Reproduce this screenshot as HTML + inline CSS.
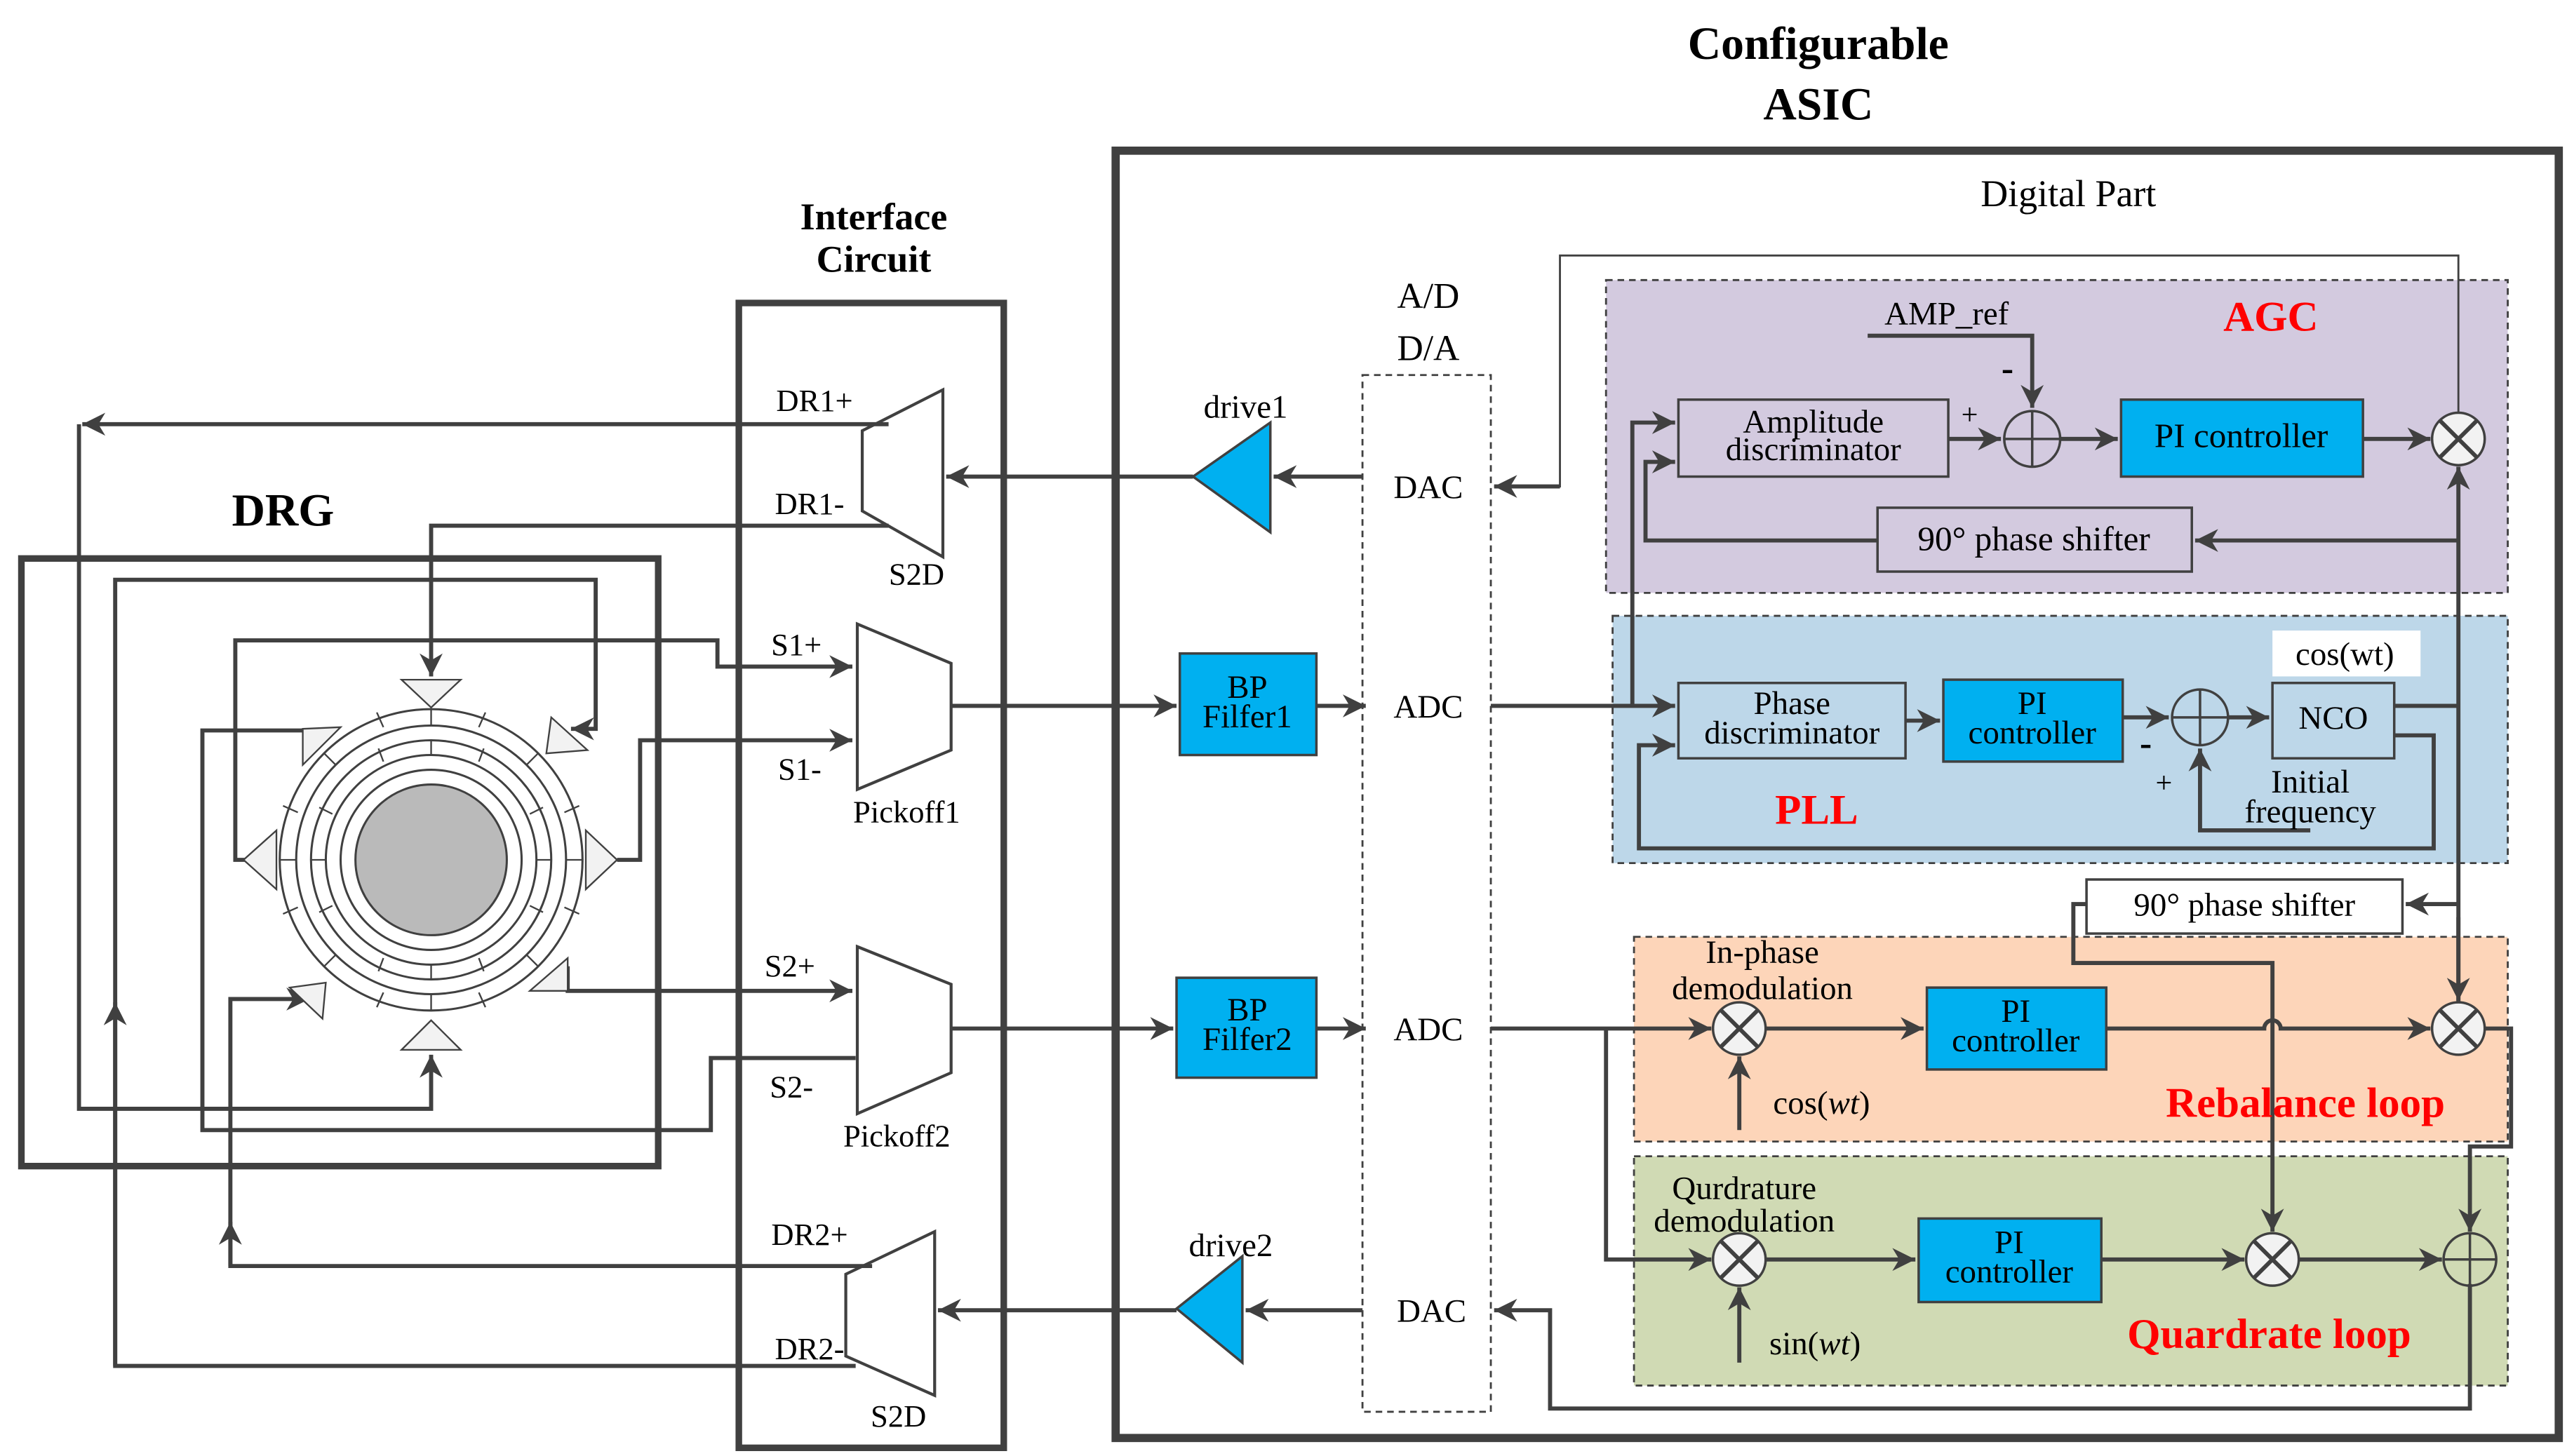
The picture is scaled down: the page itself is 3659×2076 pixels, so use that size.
<!DOCTYPE html>
<html><head><meta charset="utf-8"><style>
html,body{margin:0;padding:0;background:#fff;}
svg{display:block;}
text{font-family:"Liberation Serif",serif;}
.r{fill:#ff0000;}
</style></head><body>
<svg width="3659" height="2076" viewBox="0 0 1560 889" preserveAspectRatio="none" xmlns="http://www.w3.org/2000/svg">
<defs>
<marker id="b" viewBox="0 0 10 10" refX="10" refY="5" markerWidth="18" markerHeight="14" markerUnits="userSpaceOnUse" orient="auto"><path d="M0,0 L10,5 L0,10 L3,5 z" fill="#404040"/></marker>
</defs>
<g fill="none" stroke="#404040">
<rect x="976" y="171" width="548" height="191" fill="#d3cadf" stroke-dasharray="4,3" stroke-width="1.2"/>
<rect x="980" y="376" width="544" height="151" fill="#bdd7e9" stroke-dasharray="4,3" stroke-width="1.2"/>
<rect x="993" y="572" width="531" height="125" fill="#fdd5b9" stroke-dasharray="4,3" stroke-width="1.2"/>
<rect x="993" y="706" width="531" height="140" fill="#d0dab4" stroke-dasharray="4,3" stroke-width="1.2"/>
<rect x="678" y="92" width="877" height="786" stroke-width="5"/>
<rect x="449" y="185" width="161" height="699" stroke-width="4"/>
<rect x="13" y="341" width="387" height="371" stroke-width="4"/>
<rect x="828" y="229" width="78" height="633" stroke-dasharray="4,3" stroke-width="1.2"/>
</g>
<g stroke="#404040" stroke-width="1.5">
<rect x="1020" y="244" width="164" height="47" fill="none"/>
<rect x="1289" y="244" width="147" height="47" fill="#00b0f0"/>
<rect x="1141" y="310" width="191" height="39" fill="none"/>
<rect x="1020" y="417" width="138" height="46" fill="none"/>
<rect x="1181" y="415" width="109" height="50" fill="#00b0f0"/>
<rect x="1381" y="417" width="74" height="46" fill="none"/>
<rect x="1268" y="537" width="192" height="33" fill="#fff"/>
<rect x="1171" y="603" width="109" height="50" fill="#00b0f0"/>
<rect x="1166" y="744" width="111" height="51" fill="#00b0f0"/>
<rect x="717" y="399" width="83" height="62" fill="#00b0f0"/>
<rect x="715" y="597" width="85" height="61" fill="#00b0f0"/>
<polygon points="725,291 772,258 772,325" fill="#00b0f0"/>
<polygon points="715,799 755,767 755,832" fill="#00b0f0"/>
</g>
<rect x="1381" y="385" width="90" height="28" fill="#fff"/>
<g fill="#fff" stroke="#404040" stroke-width="1.8">
<polygon points="573,238 573,340 524,312 524,263"/>
<polygon points="521,381 578,405 578,458 521,482"/>
<polygon points="521,578 578,601 578,655 521,680"/>
<polygon points="568,752 568,852 514,828 514,778"/>
</g>
<g fill="none" stroke="#404040" stroke-width="2.5">
<path d="M725,291 H575" marker-end="url(#b)"/>
<path d="M828,291 H774" marker-end="url(#b)"/>
<path d="M578,431 H715" marker-end="url(#b)"/>
<path d="M800,431 H830" marker-end="url(#b)"/>
<path d="M578,628 H713" marker-end="url(#b)"/>
<path d="M800,628 H830" marker-end="url(#b)"/>
<path d="M828,800 H757" marker-end="url(#b)"/>
<path d="M715,800 H570" marker-end="url(#b)"/>
<path d="M906,431 H1018" marker-end="url(#b)"/>
<path d="M992,431 V258 H1018" marker-end="url(#b)"/>
<path d="M1141,330 H1000 V282 H1018" marker-end="url(#b)"/>
<path d="M1184,268 H1216" marker-end="url(#b)"/>
<path d="M1135,205 H1235 V249" marker-end="url(#b)"/>
<path d="M1252,268 H1287" marker-end="url(#b)"/>
<path d="M1436,268 H1477" marker-end="url(#b)"/>
<path d="M1455,431 H1494"/>
<path d="M1494,613 V285" marker-end="url(#b)"/>
<path d="M1494,330 H1334" marker-end="url(#b)"/>
<path d="M1494,552 H1462" marker-end="url(#b)"/>
<path d="M1494,560 V611" marker-end="url(#b)"/>
<path d="M1158,440 H1179" marker-end="url(#b)"/>
<path d="M1290,438 H1318" marker-end="url(#b)"/>
<path d="M1354,438 H1379" marker-end="url(#b)"/>
<path d="M1404,507 H1337 V457" marker-end="url(#b)"/>
<path d="M1455,449 H1479 V518 H996 V455 H1018" marker-end="url(#b)"/>
<path d="M906,628 H1040" marker-end="url(#b)"/>
<path d="M976,628 V769 H1040" marker-end="url(#b)"/>
<path d="M1057,690 V645" marker-end="url(#b)"/>
<path d="M1057,832 V786" marker-end="url(#b)"/>
<path d="M1072,628 H1169" marker-end="url(#b)"/>
<path d="M1072,769 H1164" marker-end="url(#b)"/>
<path d="M1280,628 H1376 a5,5 0 0 1 10,0 H1477" marker-end="url(#b)"/>
<path d="M1277,769 H1364" marker-end="url(#b)"/>
<path d="M1396,769 H1484" marker-end="url(#b)"/>
<path d="M1268,552 H1260 V588 H1381 V752" marker-end="url(#b)"/>
<path d="M1509,628 H1526 V700 H1501 V752" marker-end="url(#b)"/>
<path d="M1501,784 V860 H942 V800 H908" marker-end="url(#b)"/>
</g>
<path d="M1494,253 V156 H948 V297 H908" fill="none" stroke="#404040" stroke-width="1.2"/>
<path d="M948,297 H908" fill="none" stroke="#404040" stroke-width="2.5" marker-end="url(#b)"/>
<g stroke="#404040" stroke-width="1.5">
<g fill="none"><circle cx="1235" cy="268" r="17"/><path d="M1218,268 H1252 M1235,251 V285"/>
<circle cx="1337" cy="438" r="17"/><path d="M1320,438 H1354 M1337,421 V455"/>
<circle cx="1501" cy="769" r="16"/><path d="M1485,769 H1517 M1501,753 V785"/></g>
<g fill="#f2f2f2">
<circle cx="1494" cy="268" r="16"/><circle cx="1057" cy="628" r="16"/><circle cx="1494" cy="628" r="16"/>
<circle cx="1057" cy="769" r="16"/><circle cx="1381" cy="769" r="16"/></g>
<g stroke-width="2.5"><path d="M1483,257 L1505,279 M1505,257 L1483,279"/>
<path d="M1046,617 L1068,639 M1068,617 L1046,639"/><path d="M1483,617 L1505,639 M1505,617 L1483,639"/>
<path d="M1046,758 L1068,780 M1068,758 L1046,780"/><path d="M1370,758 L1392,780 M1392,758 L1370,780"/></g>
</g>
<g fill="none" stroke="#404040" stroke-width="2.5">
<path d="M540,259 H50" marker-end="url(#b)"/>
<path d="M48,259 V677 H262 V644" marker-end="url(#b)"/>
<path d="M540,321 H262 V413" marker-end="url(#b)"/>
<path d="M530,773 H140 V610 H188" marker-end="url(#b)"/>
<path d="M140,773 V746" marker-end="url(#b)"/>
<path d="M520,834 H70 V354 H362 V445 H347" marker-end="url(#b)"/>
<path d="M70,834 V612" marker-end="url(#b)"/>
<path d="M150,525 H143 V391 H436 V407 H518" marker-end="url(#b)"/>
<path d="M375,525 H389 V452 H518" marker-end="url(#b)"/>
<path d="M345,590 V605 H518" marker-end="url(#b)"/>
<path d="M520,646 H432 V690 H123 V446 H185"/>
</g>
<g stroke="#404040" stroke-width="1.3" fill="#fff">
<circle cx="262" cy="525" r="92"/><circle cx="262" cy="525" r="82"/><circle cx="262" cy="525" r="73"/>
<circle cx="262" cy="525" r="64"/><circle cx="262" cy="525" r="55"/>
<circle cx="262" cy="525" r="46" fill="#bababa"/>
<g stroke-width="1">
<path d="M262,433 V443 M262,607 V617 M170,525 H180 M344,525 H354 M197,460 L204,467 M327,460 L320,467 M197,590 L204,583 M327,590 L320,583"/>
<path d="M262,452 V461 M262,589 V598 M189,525 H198 M326,525 H335 M230,457 L233,465 M294,457 L291,465 M230,593 L233,585 M294,593 L291,585 M194,493 L202,497 M330,493 L322,497 M194,557 L202,553 M330,557 L322,553"/>
<path d="M229,435 L233,444 M295,435 L291,444 M229,615 L233,606 M295,615 L291,606 M172,492 L181,496 M352,492 L343,496 M172,558 L181,554 M352,558 L343,554"/>
</g>
</g>
<g fill="#f2f2f2" stroke="#404040" stroke-width="1">
<polygon points="244,415 280,415 262,432"/>
<polygon points="244,641 280,641 262,623"/>
<polygon points="148,525 168,507 168,543"/>
<polygon points="375,525 356,507 356,543"/>
<polygon points="184,445 207,444 184,467"/>
<polygon points="335,438 357,458 332,460"/>
<polygon points="176,603 198,600 196,622"/>
<polygon points="345,585 345,605 322,605"/>
</g>
<g font-size="22" fill="#000">
<text x="1105" y="36" font-size="28" font-weight="bold" text-anchor="middle">Configurable</text>
<text x="1105" y="73" font-size="28" font-weight="bold" text-anchor="middle">ASIC</text>
<text x="531" y="140" font-size="23" font-weight="bold" text-anchor="middle">Interface</text>
<text x="531" y="166" font-size="23" font-weight="bold" text-anchor="middle">Circuit</text>
<text x="172" y="321" font-size="28" font-weight="bold" text-anchor="middle">DRG</text>
<text x="1257" y="126" text-anchor="middle" font-size="23">Digital Part</text>
<text x="868" y="188" text-anchor="middle">A/D</text>
<text x="868" y="220" text-anchor="middle">D/A</text>
<text x="868" y="304" text-anchor="middle" font-size="20">DAC</text>
<text x="868" y="438" text-anchor="middle" font-size="20">ADC</text>
<text x="868" y="635" text-anchor="middle" font-size="20">ADC</text>
<text x="870" y="807" text-anchor="middle" font-size="20">DAC</text>
<text x="757" y="255" text-anchor="middle" font-size="20">drive1</text>
<text x="748" y="767" text-anchor="middle" font-size="20">drive2</text>
<text x="758" y="426" text-anchor="middle" font-size="20">BP</text>
<text x="758" y="444" text-anchor="middle" font-size="20">Filfer1</text>
<text x="758" y="623" text-anchor="middle" font-size="20">BP</text>
<text x="758" y="641" text-anchor="middle" font-size="20">Filfer2</text>
<g font-size="19">
<text x="495" y="251" text-anchor="middle">DR1+</text>
<text x="492" y="314" text-anchor="middle">DR1-</text>
<text x="557" y="357" text-anchor="middle">S2D</text>
<text x="484" y="400" text-anchor="middle">S1+</text>
<text x="486" y="476" text-anchor="middle">S1-</text>
<text x="551" y="502" text-anchor="middle">Pickoff1</text>
<text x="480" y="596" text-anchor="middle">S2+</text>
<text x="481" y="670" text-anchor="middle">S2-</text>
<text x="545" y="700" text-anchor="middle">Pickoff2</text>
<text x="492" y="760" text-anchor="middle">DR2+</text>
<text x="492" y="830" text-anchor="middle">DR2-</text>
<text x="546" y="871" text-anchor="middle">S2D</text>
</g>
<g font-size="20" text-anchor="middle">
<text x="1183" y="198">AMP_ref</text>
<text x="1102" y="264">Amplitude</text>
<text x="1102" y="281">discriminator</text>
<text x="1362" y="273" font-size="21">PI controller</text>
<text x="1236" y="336" font-size="21">90° phase shifter</text>
<text x="1089" y="436">Phase</text>
<text x="1089" y="454">discriminator</text>
<text x="1235" y="436">PI</text>
<text x="1235" y="454">controller</text>
<text x="1418" y="445">NCO</text>
<text x="1425" y="406">cos(wt)</text>
<text x="1404" y="484">Initial</text>
<text x="1404" y="502">frequency</text>
<text x="1364" y="559">90° phase shifter</text>
<text x="1071" y="588">In-phase</text>
<text x="1071" y="610">demodulation</text>
<text x="1225" y="624">PI</text>
<text x="1225" y="642">controller</text>
<text x="1107" y="680">cos(<tspan font-style="italic">wt</tspan>)</text>
<text x="1060" y="732">Qurdrature</text>
<text x="1060" y="752">demodulation</text>
<text x="1221" y="765">PI</text>
<text x="1221" y="783">controller</text>
<text x="1103" y="827">sin(<tspan font-style="italic">wt</tspan>)</text>
<text x="1197" y="259" font-size="18">+</text>
<text x="1220" y="232" font-size="22" font-weight="bold">-</text>
<text x="1304" y="461" font-size="22" font-weight="bold">-</text>
<text x="1315" y="484" font-size="18">+</text>
</g>
<g font-weight="bold" text-anchor="middle" font-size="26">
<text class="r" x="1380" y="202">AGC</text>
<text class="r" x="1104" y="503">PLL</text>
<text class="r" x="1401" y="682">Rebalance loop</text>
<text class="r" x="1379" y="823">Quardrate loop</text>
</g>
</g>
</svg>
</body></html>
